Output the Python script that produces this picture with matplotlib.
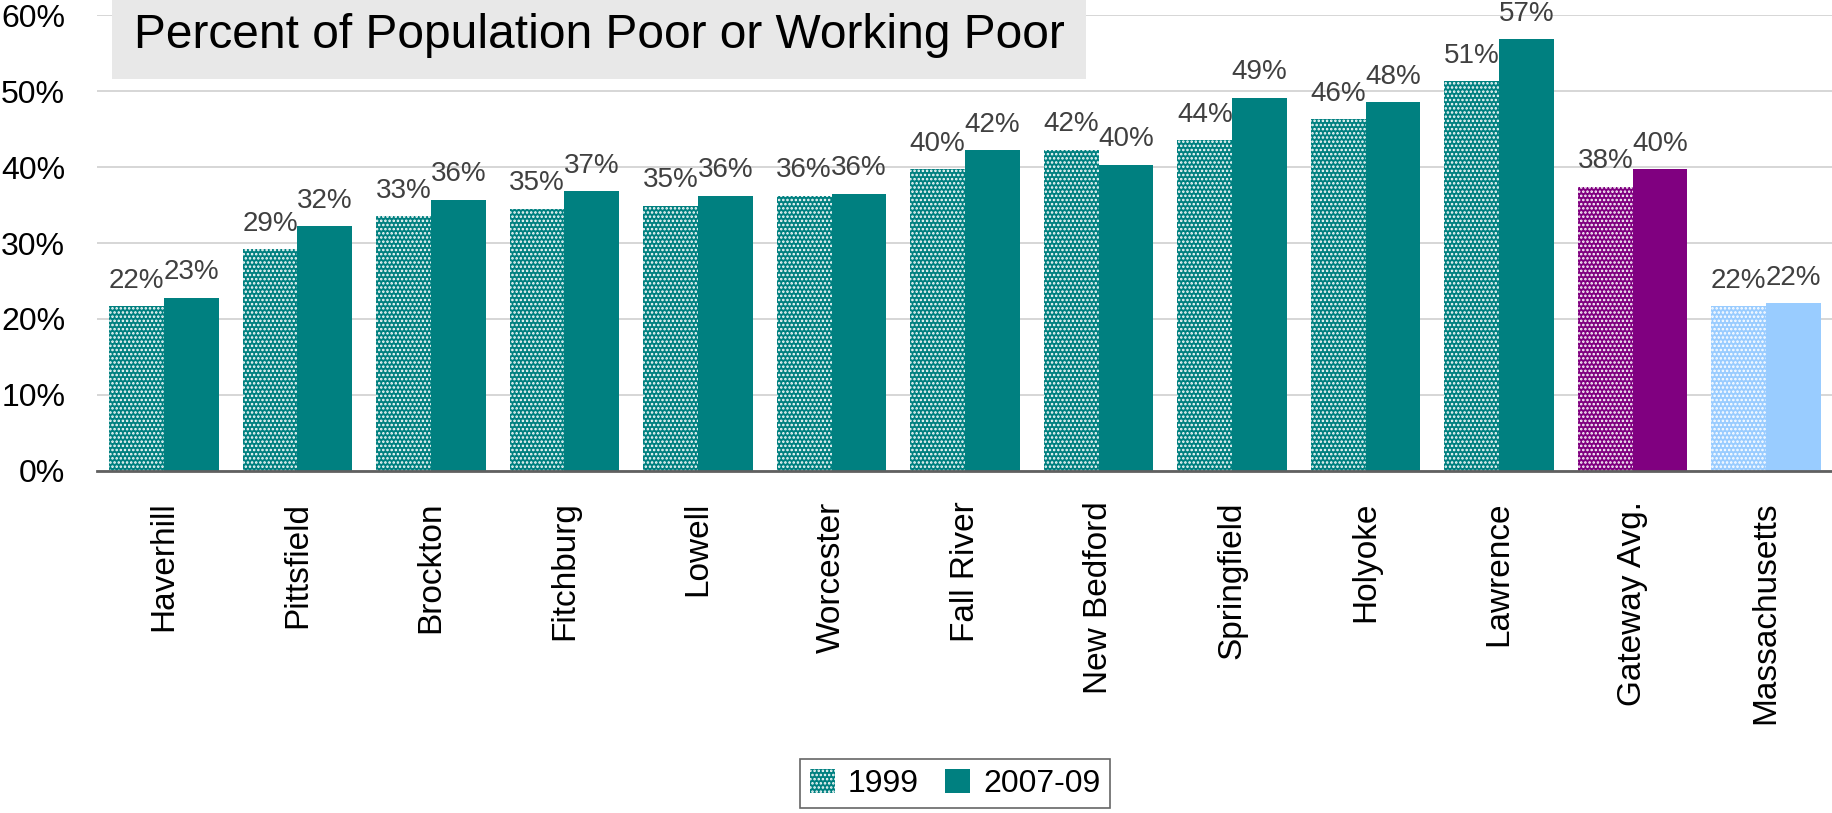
import numpy as np
import matplotlib.pyplot as plt
from matplotlib.patches import Patch

plt.rcParams['font.family'] = ['Liberation Sans', 'DejaVu Sans']
plt.rcParams['hatch.linewidth'] = 1.2

cities = ["Haverhill", "Pittsfield", "Brockton", "Fitchburg", "Lowell", "Worcester",
          "Fall River", "New Bedford", "Springfield", "Holyoke", "Lawrence",
          "Gateway Avg.", "Massachusetts"]
pct_1999 = [21.7, 29.2, 33.5, 34.5, 34.9, 36.2, 39.7, 42.3, 43.5, 46.3, 51.3, 37.4, 21.7]
pct_2007 = [22.8, 32.2, 35.7, 36.8, 36.2, 36.5, 42.2, 40.3, 49.1, 48.5, 56.8, 39.7, 22.1]
labels_1999 = ["22%", "29%", "33%", "35%", "35%", "36%", "40%", "42%", "44%", "46%", "51%", "38%", "22%"]
labels_2007 = ["23%", "32%", "36%", "37%", "36%", "36%", "42%", "40%", "49%", "48%", "57%", "40%", "22%"]

teal = "#008080"
purple = "#800080"
lightblue = "#99CCFF"
colors = [teal] * 11 + [purple, lightblue]

fig = plt.figure(figsize=(18.33, 8.13), dpi=100)
ax = fig.add_axes([0.053, 0.4207, 0.947, 0.9815 - 0.4207])

x = np.arange(len(cities))
w = 0.41
b1 = ax.bar(x - w / 2, pct_1999, w, color=colors, edgecolor="white", linewidth=0, hatch="....", zorder=2)
b2 = ax.bar(x + w / 2, pct_2007, w, color=colors, linewidth=0, zorder=2)

# data labels
for rect, lab in zip(b1, labels_1999):
    ax.annotate(lab, (rect.get_x() + rect.get_width() / 2, rect.get_height()),
                xytext=(0, 9), textcoords="offset points", ha="center", va="bottom",
                fontsize=20, color="#404040")
for rect, lab in zip(b2, labels_2007):
    ax.annotate(lab, (rect.get_x() + rect.get_width() / 2, rect.get_height()),
                xytext=(0, 9), textcoords="offset points", ha="center", va="bottom",
                fontsize=20, color="#404040")

ax.set_xlim(-0.5, len(cities) - 0.5)
ax.set_ylim(0, 60)
ax.set_yticks(np.arange(0, 61, 10))
ax.set_yticklabels([f"{v}%" for v in range(0, 61, 10)], fontsize=23)
ax.set_xticks(x)
ax.set_xticklabels(cities, rotation=90, fontsize=24, va="top", ha="center")
ax.tick_params(axis="y", length=0, pad=23)
ax.tick_params(axis="x", length=0, pad=22)
ax.grid(axis="y", color="#d0d0d0", linewidth=1.2, zorder=0)
ax.set_axisbelow(True)
for s in ["top", "right", "left"]:
    ax.spines[s].set_visible(False)
ax.spines["bottom"].set_color("#606060")
ax.spines["bottom"].set_linewidth(2)
ax.spines["bottom"].set_zorder(3)

# titel in grauer box
fig.text(0.073, 0.9815 + 0.003, "Percent of Population Poor or Working Poor",
         fontsize=34.5, ha="left", va="top", zorder=5,
         bbox=dict(boxstyle="square,pad=0.45", facecolor="#e8e8e8", edgecolor="none"))

handles = [Patch(facecolor=teal, edgecolor="white", linewidth=0, hatch="...."),
           Patch(facecolor=teal, linewidth=0)]
leg = fig.legend(handles, ["1999", "2007-09"], loc="center", bbox_to_anchor=(0.521, 0.036),
                 ncol=2, fontsize=23, frameon=True, fancybox=False, handlelength=0.8,
                 handleheight=0.8, handletextpad=0.4, columnspacing=0.8, borderpad=0.3)
leg.get_frame().set_edgecolor("#404040")
leg.get_frame().set_linewidth(1.2)

fig.savefig("out.png", dpi=100)
